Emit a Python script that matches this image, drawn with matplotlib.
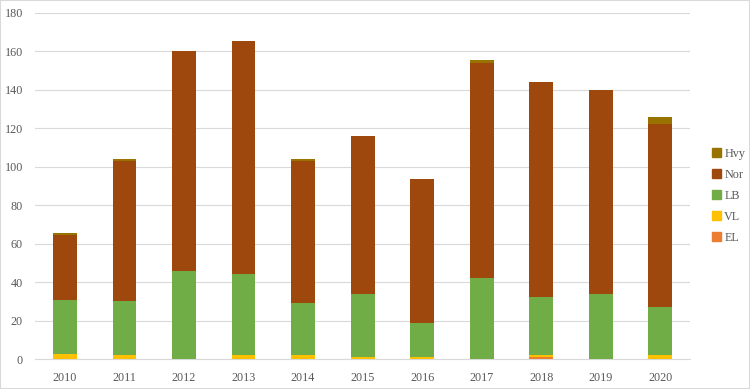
import matplotlib.pyplot as plt
import matplotlib.patches as mpatches
import numpy as np

years = ["2010", "2011", "2012", "2013", "2014", "2015", "2016", "2017", "2018", "2019", "2020"]
el = [0, 0, 0, 0, 0, 0, 0, 0, 1, 0, 0]
vl = [2.5, 2, 0, 2, 2, 1, 1, 0, 1, 0, 2]
lb = [28, 28, 46, 42, 27, 33, 18, 42, 30, 34, 25]
nor = [34, 73, 114, 121.5, 74, 82, 74.5, 112, 112, 106, 95]
hvy = [1, 1, 0, 0, 1, 0, 0, 1.5, 0, 0, 4]

series = [("EL", el, "#ED7D31"), ("VL", vl, "#FFC000"), ("LB", lb, "#70AD47"),
          ("Nor", nor, "#9E480E"), ("Hvy", hvy, "#997300")]

plt.rcParams["font.family"] = ["Liberation Serif", "DejaVu Serif"]

fig = plt.figure(figsize=(7.5, 3.89), dpi=100)
ax = fig.add_axes([0.047, 0.077, 0.873, 0.89])

x = np.arange(len(years))
bottom = np.zeros(len(years))
handles = []
for name, vals, color in series:
    ax.bar(x, vals, 0.4, bottom=bottom, color=color, zorder=3)
    bottom += np.array(vals)
    handles.append(mpatches.Patch(color=color, label=name))

ax.set_xlim(-0.5, len(years) - 0.5)
ax.set_ylim(0, 180)
ax.set_yticks(range(0, 181, 20))
ax.set_xticks(x)
ax.set_xticklabels(years)
ax.grid(axis="y", color="#d9d9d9", linewidth=0.8, zorder=0)
for s in ["top", "right", "left"]:
    ax.spines[s].set_visible(False)
ax.spines["bottom"].set_color("#d9d9d9")
ax.tick_params(length=0, labelsize=8.7, colors="#595959")
ax.tick_params(axis="y", pad=9)
ax.tick_params(axis="x", pad=9)

fig.legend(handles=handles[::-1], loc="center left", bbox_to_anchor=(0.935, 0.497),
           frameon=False, fontsize=8.7, handlelength=0.7, handleheight=0.7,
           handletextpad=0.3, labelspacing=0.75, labelcolor="#595959")

fig.patches.append(mpatches.Rectangle((0, 0), 1, 1, transform=fig.transFigure,
                                      fill=False, edgecolor="#d9d9d9", linewidth=1.5))

fig.savefig("out.png", dpi=100)
